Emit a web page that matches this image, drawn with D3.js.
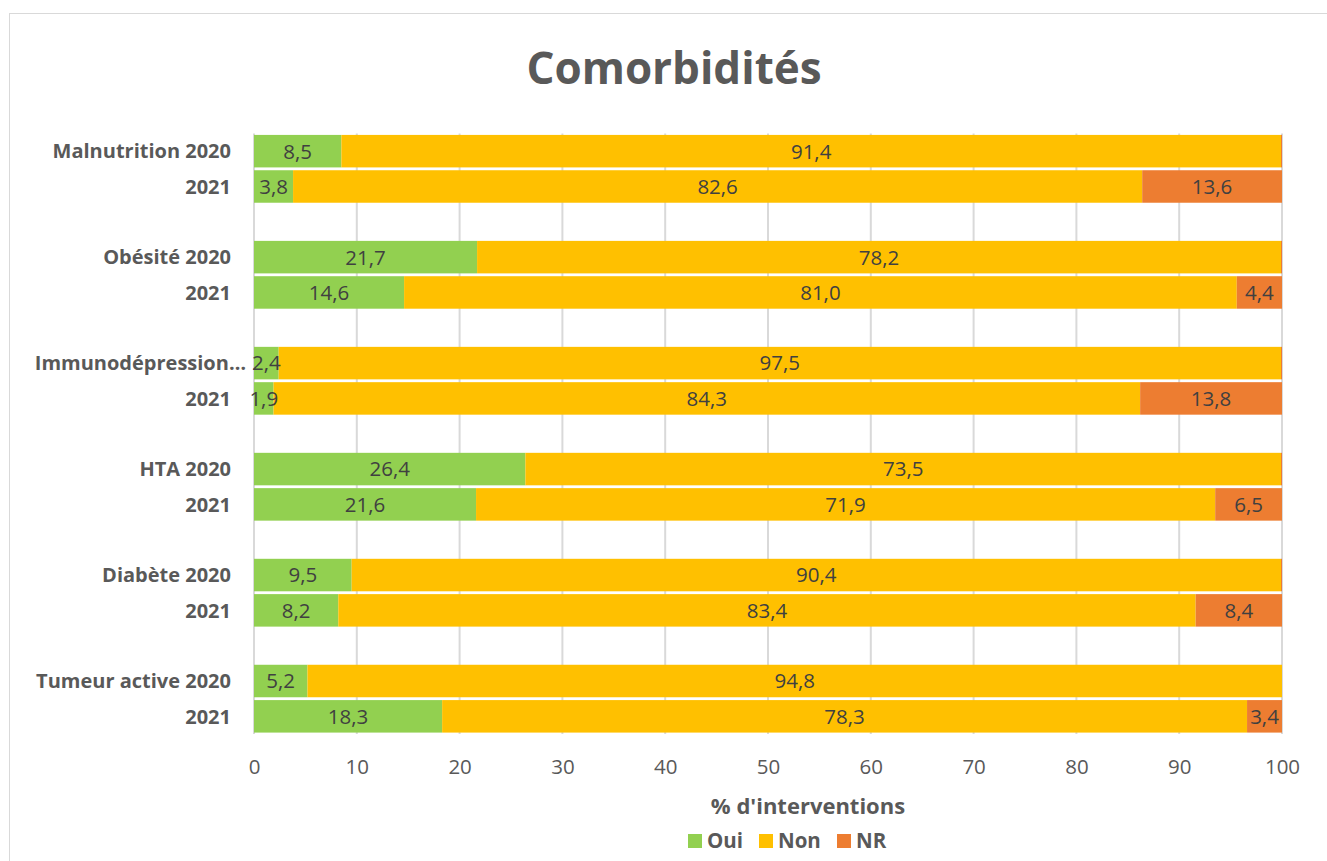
<!DOCTYPE html>
<html>
<head>
<meta charset="utf-8">
<script src="https://cdn.jsdelivr.net/npm/d3@7"></script>
<style>
  html, body { margin: 0; padding: 0; background: #fff; }
  svg { display: block; font-family: "Open Sans", Lato, sans-serif; }
</style>
</head>
<body>
<svg id="chart" width="1327" height="861"></svg>
<script>
// Comorbidity categories, each shown for 2020 and 2021
const categories = ["Malnutrition", "Obésité", "Immunodépression…", "HTA", "Diabète", "Tumeur active"];
const years = ["2020", "2021"];
const seriesNames = ["Oui", "Non", "NR"];
const seriesColors = ["#92D050", "#FFC000", "#ED7D31"];

// Percentages of interventions
const oui2020 = [8.5, 21.7, 2.4, 26.4, 9.5, 5.2];
const non2020 = [91.4, 78.2, 97.5, 73.5, 90.4, 94.8];
const nr2020  = [0.1, 0.1, 0.1, 0.1, 0.1, 0];
const oui2021 = [3.8, 14.6, 1.9, 21.6, 8.2, 18.3];
const non2021 = [82.6, 81.0, 84.3, 71.9, 83.4, 78.3];
const nr2021  = [13.6, 4.4, 13.8, 6.5, 8.4, 3.4];

const xTicks = [0, 10, 20, 30, 40, 50, 60, 70, 80, 90, 100];

// Build one row per category/year, with a blank row between categories
const rows = [];
categories.forEach((c, i) => {
  rows.push({ slot: i * 3, label: (c.endsWith("…") ? c : c + " " + years[0]), values: [oui2020[i], non2020[i], nr2020[i]] });
  rows.push({ slot: i * 3 + 1, label: years[1], values: [oui2021[i], non2021[i], nr2021[i]] });
});
const nSlots = categories.length * 3 - 1;

const svg = d3.select("#chart");
const textDark = "#595959";
const labelDark = "#404040";

// Chart frame
svg.append("rect")
  .attr("x", 9.5).attr("y", 13.5)
  .attr("width", 1400).attr("height", 900)
  .attr("fill", "#fff").attr("stroke", "#d9d9d9").attr("stroke-width", 1);

const x = d3.scaleLinear().domain([0, 100]).range([254, 1282]);
const y = d3.scaleBand().domain(d3.range(nSlots)).range([133.5, 734]).paddingInner(0.08).paddingOuter(0.04);

// Title
svg.append("text")
  .attr("x", 674).attr("y", 84)
  .attr("text-anchor", "middle")
  .attr("font-size", 44).attr("font-weight", 700)
  .attr("fill", textDark)
  .text("Comorbidités");

// Vertical gridlines
svg.append("g")
  .selectAll("line")
  .data(xTicks)
  .join("line")
  .attr("x1", d => x(d)).attr("x2", d => x(d))
  .attr("y1", 133.5).attr("y2", 734)
  .attr("stroke", "#d9d9d9").attr("stroke-width", 2);

// Stacked segments
const stacked = rows.map(r => {
  let acc = 0;
  return r.values.map((v, k) => {
    const seg = { row: r, k, v, x0: acc, x1: acc + v };
    acc += v;
    return seg;
  });
}).flat();

svg.append("g")
  .selectAll("rect")
  .data(stacked.filter(s => s.v > 0))
  .join("rect")
  .attr("x", s => x(s.x0))
  .attr("width", s => x(s.x1) - x(s.x0))
  .attr("y", s => y(s.row.slot))
  .attr("height", y.bandwidth())
  .attr("fill", s => seriesColors[s.k]);

// Value labels
const fmt = v => d3.format(".1f")(v).replace(".", ",");
svg.append("g")
  .selectAll("text")
  .data(stacked.filter(s => s.v >= 1))
  .join("text")
  .attr("x", s => (x(s.x0) + x(s.x1)) / 2)
  .attr("y", s => y(s.row.slot) + y.bandwidth() / 2)
  .attr("dy", "0.36em")
  .attr("text-anchor", "middle")
  .attr("font-size", 20.5)
  .attr("fill", labelDark)
  .text(s => fmt(s.v));

// Category labels
svg.append("g")
  .selectAll("text")
  .data(rows)
  .join("text")
  .attr("x", r => r.label.endsWith("…") ? 246 : 231)
  .attr("y", r => y(r.slot) + y.bandwidth() / 2)
  .attr("dy", "0.36em")
  .attr("text-anchor", "end")
  .attr("font-size", 20).attr("font-weight", 700)
  .attr("fill", textDark)
  .text(r => r.label);

// X axis
const xAxis = svg.append("g")
  .attr("transform", "translate(0,734)")
  .call(d3.axisBottom(x).tickValues(xTicks).tickSize(0).tickPadding(25));
xAxis.select(".domain").remove();
xAxis.selectAll("text")
  .attr("font-family", "'Open Sans', Lato, sans-serif")
  .attr("font-size", 20.5).attr("fill", textDark);

// Axis title
svg.append("text")
  .attr("x", 808).attr("y", 814)
  .attr("text-anchor", "middle")
  .attr("font-size", 22).attr("font-weight", 700)
  .attr("fill", textDark)
  .text("% d'interventions");

// Legend
const legendX = [688, 759, 837];
const legend = svg.append("g")
  .selectAll("g")
  .data(seriesNames)
  .join("g")
  .attr("transform", (d, i) => `translate(${legendX[i]},834)`);
legend.append("rect")
  .attr("width", 14).attr("height", 14)
  .attr("fill", (d, i) => seriesColors[i]);
legend.append("text")
  .attr("x", 19).attr("y", 7).attr("dy", "0.36em")
  .attr("font-size", 20.5).attr("font-weight", 700)
  .attr("fill", textDark)
  .text(d => d);
</script>
</body>
</html>
